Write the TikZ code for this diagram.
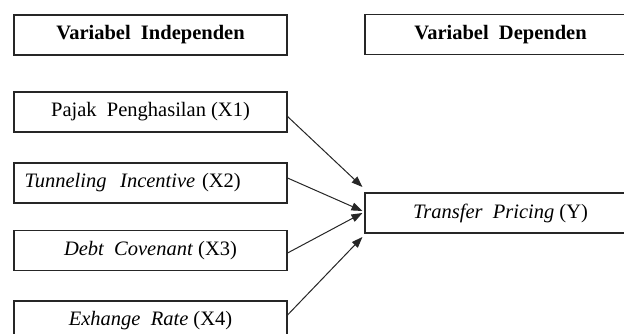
\documentclass[tikz,border=0pt]{standalone}
\usepackage{fontspec}
\setmainfont{Liberation Serif}
\usetikzlibrary{arrows.meta}
\begin{document}
\begin{tikzpicture}[x=1pt,y=-1pt,
  box/.style={draw=black!85,line width=1.1pt,minimum height=40pt,inner sep=0pt,font=\fontsize{20.5}{24}\selectfont},
  lbox/.style={box,minimum width=273pt},
  rbox/.style={box,minimum width=271pt},
  arr/.style={draw=black!85,line width=1pt,-{Triangle[length=11pt,width=8pt]}}]
\useasboundingbox (0,0) rectangle (624,333);
\clip (0,0) rectangle (624,333);
\fill[white] (0,0) rectangle (624,333);
\node[lbox] (iv) at (150.5,35) {\textbf{Variabel\ \ Independen}};
\node[lbox] (x1) at (150.5,112) {Pajak\ \ Penghasilan (X1)};
\node[lbox,text width=252pt,inner xsep=10.5pt,align=left] (x2) at (150.5,183) {\textit{Tunneling\ \ Incentive} (X2)};
\node[lbox] (x3) at (150.5,250.5) {\textit{Debt\ \ Covenant} (X3)};
\node[lbox] (x4) at (150.5,321) {\textit{Exhange\ \ Rate} (X4)};
\node[rbox] (dv) at (500.5,34.5) {\textbf{Variabel\ \ Dependen}};
\node[rbox] (y) at (500.5,213) {\textit{Transfer\ \ Pricing} (Y)};
\draw[arr] ([yshift=-4.5pt]x1.east) -- ([xshift=-2pt,yshift=26pt]y.west);
\draw[arr] ([yshift=5pt]x2.east) -- ([xshift=-2pt,yshift=2pt]y.west);
\draw[arr] ([yshift=-2.5pt]x3.east) -- ([xshift=-2pt]y.west);
\draw[arr] ([yshift=6pt]x4.east) -- ([xshift=-2pt,yshift=-24pt]y.west);
\end{tikzpicture}
\end{document}
